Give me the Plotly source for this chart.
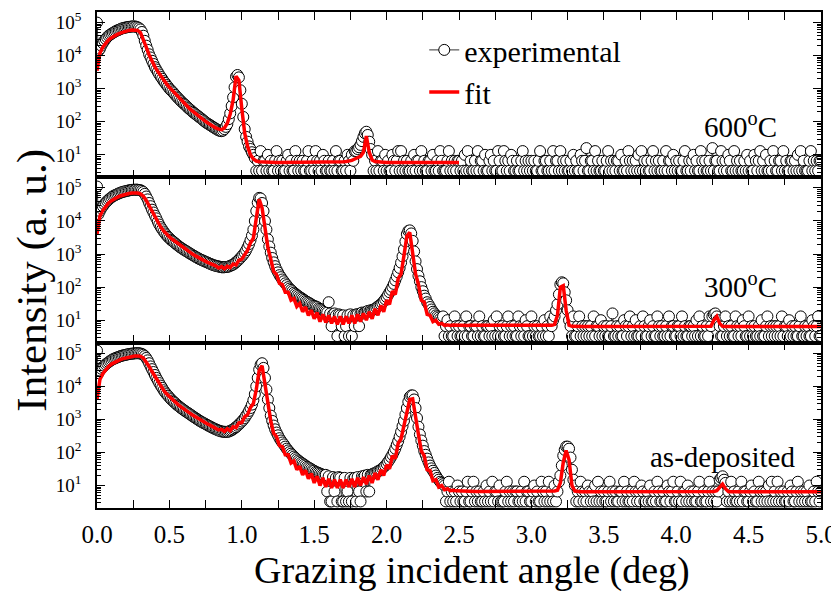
import plotly.graph_objects as go
from plotly.subplots import make_subplots

EXP_STEP = 0.01  # deg, measured scans
FIT_STEP = 0.02  # deg, simulated curves

# experimental: each row = 10 points, row k starts at 0.1*k deg
exp_600 = [
    1.0e5, 1.4e4, 1.6e4, 2.0e4, 2.4e4, 2.8e4, 3.2e4, 3.6e4, 4.0e4, 4.3e4,
    4.6e4, 4.9e4, 5.2e4, 5.5e4, 5.8e4, 6.0e4, 6.3e4, 6.6e4, 6.8e4, 7.0e4,
    7.1e4, 7.3e4, 7.4e4, 7.5e4, 7.6e4, 7.7e4, 7.6e4, 7.5e4, 7.2e4, 6.8e4,
    6.2e4, 5.2e4, 4.0e4, 2.8e4, 2.0e4, 1.5e4, 1.1e4, 8.8e3, 7.0e3, 5.6e3,
    4.5e3, 3.8e3, 3.2e3, 2.7e3, 2.3e3, 2.0e3, 1.7e3, 1.5e3, 1.3e3, 1.15e3,
    1.0e3, 900, 820, 730, 650, 580, 520, 470, 420, 380,
    350, 320, 290, 260, 240, 220, 200, 185, 170, 158,
    145, 135, 125, 115, 105, 97, 90, 85, 80, 75,
    70, 66, 62, 58, 55, 53, 52, 54, 60, 70,
    85, 120, 180, 300, 550, 1100, 2300, 2600, 2200, 900,
    350, 140, 60, 35, 25, 18, 15, 12, 10, 8.0,
    3.3, 6.6, 3.3, 13, 3.3, 6.6, 6.6, 3.3, 10, 3.3,
    6.6, 3.3, 3.3, 6.6, 13, 3.3, 6.6, 3.3, 6.6, 3.3,
    3.3, 6.6, 10, 3.3, 6.6, 3.3, 3.3, 13, 6.6, 3.3,
    6.6, 3.3, 6.6, 3.3, 3.3, 6.6, 13, 3.3, 3.3, 6.6,
    3.3, 13, 6.6, 3.3, 6.6, 3.3, 10, 6.6, 3.3, 3.3,
    6.6, 3.3, 3.3, 6.6, 3.3, 13, 3.3, 6.6, 6.6, 3.3,
    3.3, 6.6, 3.3, 10, 6.6, 3.3, 10, 6.6, 13, 13,
    15, 17, 20, 26, 35, 45, 50, 40, 25, 15,
    10, 3.3, 6.6, 3.3, 13, 3.3, 6.6, 6.6, 3.3, 10,
    3.3, 6.6, 3.3, 3.3, 10, 6.6, 3.3, 6.6, 13, 3.3,
    13, 3.3, 6.6, 3.3, 6.6, 3.3, 3.3, 6.6, 3.3, 10,
    3.3, 6.6, 6.6, 3.3, 13, 3.3, 6.6, 3.3, 3.3, 6.6,
    6.6, 3.3, 10, 3.3, 3.3, 6.6, 3.3, 13, 6.6, 3.3,
    3.3, 3.3, 6.6, 13, 3.3, 6.6, 3.3, 6.6, 3.3, 6.6,
    6.6, 3.3, 6.6, 3.3, 10, 3.3, 13, 3.3, 6.6, 3.3,
    3.3, 6.6, 3.3, 13, 3.3, 6.6, 6.6, 3.3, 10, 3.3,
    3.3, 6.6, 10, 3.3, 6.6, 3.3, 3.3, 13, 6.6, 3.3,
    3.3, 13, 6.6, 3.3, 6.6, 3.3, 10, 6.6, 3.3, 3.3,
    6.6, 3.3, 3.3, 6.6, 13, 3.3, 6.6, 3.3, 6.6, 3.3,
    6.6, 3.3, 6.6, 3.3, 3.3, 6.6, 13, 3.3, 3.3, 6.6,
    6.6, 3.3, 3.3, 6.6, 3.3, 13, 3.3, 6.6, 6.6, 3.3,
    13, 3.3, 6.6, 3.3, 6.6, 3.3, 3.3, 6.6, 3.3, 10,
    3.3, 6.6, 3.3, 3.3, 10, 6.6, 3.3, 6.6, 16, 3.3,
    3.3, 6.6, 6.6, 3.3, 13, 3.3, 6.6, 3.3, 3.3, 6.6,
    3.3, 3.3, 6.6, 13, 3.3, 6.6, 3.3, 6.6, 3.3, 6.6,
    6.6, 3.3, 10, 3.3, 3.3, 6.6, 3.3, 13, 6.6, 3.3,
    6.6, 3.3, 6.6, 3.3, 10, 3.3, 13, 3.3, 6.6, 3.3,
    6.6, 3.3, 3.3, 6.6, 13, 3.3, 6.6, 3.3, 6.6, 3.3,
    3.3, 6.6, 3.3, 13, 3.3, 6.6, 6.6, 3.3, 10, 3.3,
    6.6, 3.3, 6.6, 3.3, 3.3, 6.6, 13, 3.3, 3.3, 6.6,
    3.3, 6.6, 10, 3.3, 6.6, 3.3, 3.3, 13, 6.6, 3.3,
    6.6, 3.3, 3.3, 6.6, 3.3, 16, 3.3, 6.6, 6.6, 3.3,
    3.3, 13, 6.6, 3.3, 6.6, 3.3, 10, 6.6, 3.3, 3.3,
    13, 3.3, 6.6, 3.3, 6.6, 3.3, 3.3, 6.6, 3.3, 10,
    3.3, 6.6, 3.3, 3.3, 10, 6.6, 3.3, 6.6, 13, 3.3,
    6.6, 3.3, 10, 3.3, 3.3, 6.6, 3.3, 13, 6.6, 3.3,
    3.3, 6.6, 6.6, 3.3, 13, 3.3, 6.6, 3.3, 3.3, 6.6,
    6.6, 3.3, 6.6, 3.3, 10, 3.3, 13, 3.3, 6.6, 3.3,
    3.3, 3.3, 6.6, 13, 3.3, 6.6, 3.3, 6.6, 3.3, 6.6,
    6.6,
]

exp_300 = [
    1.1e5, 1.6e4, 2.0e4, 2.4e4, 2.8e4, 3.2e4, 3.6e4, 4.0e4, 4.4e4, 4.8e4,
    5.2e4, 5.6e4, 5.9e4, 6.2e4, 6.5e4, 6.8e4, 7.1e4, 7.4e4, 7.6e4, 7.8e4,
    8.0e4, 8.2e4, 8.4e4, 8.6e4, 8.7e4, 8.8e4, 8.8e4, 8.9e4, 8.8e4, 8.7e4,
    8.5e4, 8.1e4, 7.5e4, 6.6e4, 5.5e4, 4.5e4, 3.5e4, 2.8e4, 2.2e4, 1.8e4,
    1.45e4, 1.2e4, 9.5e3, 7.8e3, 6.5e3, 5.6e3, 4.8e3, 4.2e3, 3.7e3, 3.3e3,
    3.0e3, 2.7e3, 2.5e3, 2.3e3, 2.1e3, 1.95e3, 1.8e3, 1.65e3, 1.55e3, 1.45e3,
    1.35e3, 1.27e3, 1.2e3, 1.12e3, 1.05e3, 990, 930, 880, 830, 780,
    740, 700, 670, 640, 610, 585, 560, 535, 510, 490,
    470, 455, 440, 430, 420, 410, 400, 395, 400, 405,
    410, 420, 440, 460, 480, 520, 560, 620, 680, 760,
    850, 960, 1.1e3, 1.3e3, 1.6e3, 2.0e3, 2.6e3, 3.6e3, 5.5e3, 1.0e4,
    2.0e4, 3.6e4, 5.0e4, 4.8e4, 3.5e4, 2.0e4, 1.0e4, 5.5e3, 2.8e3, 1.7e3,
    1.1e3, 760, 560, 430, 340, 280, 230, 200, 170, 150,
    130, 115, 100, 90, 82, 75, 68, 63, 58, 54,
    50, 47, 44, 41, 38, 36, 34, 32, 30, 28,
    27, 26, 25, 23, 22, 21, 20, 19, 18, 17,
    35, 16, 6.6, 15, 16, 14, 3.3, 15, 14, 6.6,
    14, 3.3, 6.6, 14, 3.3, 15, 3.3, 14, 6.6, 15,
    15, 6.6, 16, 17, 16, 17, 18, 19, 18, 20,
    20, 21, 22, 24, 26, 28, 30, 33, 38, 43,
    50, 58, 70, 82, 100, 125, 160, 210, 280, 380,
    550, 850, 1.4e3, 2.4e3, 4.0e3, 5.0e3, 5.2e3, 4.2e3, 2.5e3, 1.2e3,
    600, 350, 220, 150, 100, 75, 55, 45, 35, 30,
    25, 21, 18, 16, 14, 13, 12, 11, 10, 13,
    3.3, 6.6, 10, 3.3, 6.6, 3.3, 3.3, 13, 6.6, 3.3,
    6.6, 3.3, 3.3, 6.6, 3.3, 13, 3.3, 6.6, 6.6, 3.3,
    3.3, 6.6, 6.6, 3.3, 13, 3.3, 6.6, 3.3, 3.3, 6.6,
    6.6, 3.3, 6.6, 3.3, 10, 3.3, 13, 3.3, 6.6, 3.3,
    6.6, 3.3, 3.3, 6.6, 13, 3.3, 6.6, 3.3, 6.6, 3.3,
    3.3, 13, 6.6, 3.3, 6.6, 3.3, 10, 6.6, 3.3, 3.3,
    13, 3.3, 6.6, 3.3, 6.6, 3.3, 3.3, 6.6, 3.3, 10,
    3.3, 6.6, 3.3, 13, 6.6, 10, 13, 20, 30, 60,
    120, 140, 130, 70, 40, 20, 10, 6.6, 3.3, 13,
    3.3, 3.3, 6.6, 13, 3.3, 6.6, 3.3, 6.6, 3.3, 6.6,
    3.3, 6.6, 3.3, 13, 3.3, 6.6, 6.6, 3.3, 10, 3.3,
    6.6, 3.3, 6.6, 3.3, 3.3, 6.6, 16, 3.3, 3.3, 6.6,
    3.3, 6.6, 3.3, 3.3, 10, 6.6, 3.3, 6.6, 13, 3.3,
    6.6, 3.3, 10, 3.3, 3.3, 6.6, 3.3, 13, 6.6, 3.3,
    3.3, 6.6, 10, 3.3, 6.6, 3.3, 3.3, 13, 6.6, 3.3,
    6.6, 3.3, 3.3, 6.6, 3.3, 13, 3.3, 6.6, 6.6, 3.3,
    3.3, 6.6, 6.6, 3.3, 13, 3.3, 6.6, 3.3, 3.3, 6.6,
    6.6, 3.3, 6.6, 3.3, 10, 3.3, 13, 3.3, 6.6, 3.3,
    3.3, 6.6, 3.3, 13, 6.6, 13, 15, 16, 13, 10,
    6.6, 3.3, 3.3, 6.6, 13, 3.3, 6.6, 3.3, 6.6, 3.3,
    3.3, 13, 6.6, 3.3, 6.6, 3.3, 10, 6.6, 3.3, 3.3,
    13, 3.3, 6.6, 3.3, 6.6, 3.3, 3.3, 6.6, 3.3, 10,
    3.3, 3.3, 6.6, 13, 3.3, 6.6, 3.3, 6.6, 3.3, 6.6,
    3.3, 6.6, 3.3, 13, 3.3, 6.6, 6.6, 3.3, 10, 3.3,
    6.6, 3.3, 6.6, 3.3, 3.3, 6.6, 13, 3.3, 3.3, 6.6,
    3.3, 6.6, 3.3, 3.3, 10, 6.6, 3.3, 6.6, 13, 3.3,
    3.3,
]

exp_asdep = [
    1.2e5, 2.5e4, 3.0e4, 3.4e4, 3.8e4, 4.2e4, 4.6e4, 5.0e4, 5.4e4, 5.8e4,
    6.2e4, 6.6e4, 6.9e4, 7.2e4, 7.5e4, 7.8e4, 8.1e4, 8.4e4, 8.6e4, 8.8e4,
    9.0e4, 9.2e4, 9.4e4, 9.6e4, 9.7e4, 9.8e4, 9.9e4, 1.0e5, 1.0e5, 1.0e5,
    9.8e4, 9.5e4, 9.0e4, 8.2e4, 7.2e4, 6.1e4, 5.0e4, 4.0e4, 3.3e4, 2.7e4,
    2.2e4, 1.8e4, 1.5e4, 1.25e4, 1.05e4, 9.0e3, 7.6e3, 6.6e3, 5.8e3, 5.2e3,
    4.6e3, 4.1e3, 3.7e3, 3.4e3, 3.1e3, 2.8e3, 2.6e3, 2.4e3, 2.2e3, 2.05e3,
    1.9e3, 1.77e3, 1.65e3, 1.55e3, 1.45e3, 1.35e3, 1.25e3, 1.17e3, 1.1e3, 1.03e3,
    960, 900, 850, 800, 760, 720, 680, 645, 610, 580,
    550, 525, 500, 480, 460, 445, 430, 425, 420, 420,
    420, 430, 450, 470, 500, 540, 580, 640, 700, 780,
    860, 970, 1.1e3, 1.3e3, 1.5e3, 1.8e3, 2.2e3, 2.8e3, 3.8e3, 5.8e3,
    1.0e4, 1.8e4, 3.2e4, 4.5e4, 5.0e4, 3.6e4, 1.8e4, 8.0e3, 4.0e3, 2.2e3,
    1.3e3, 900, 650, 500, 400, 330, 270, 230, 200, 175,
    150, 130, 115, 102, 92, 83, 75, 68, 62, 57,
    53, 49, 46, 43, 40, 37, 35, 33, 31, 29,
    28, 26, 25, 24, 23, 22, 21, 20, 21, 6.6,
    19, 3.3, 3.3, 18, 6.6, 17, 3.3, 18, 17, 3.3,
    3.3, 17, 3.3, 6.6, 3.3, 17, 3.3, 16, 17, 3.3,
    18, 6.6, 3.3, 19, 18, 20, 6.6, 21, 6.6, 21,
    22, 23, 24, 25, 27, 28, 30, 33, 36, 40,
    45, 52, 60, 72, 85, 105, 130, 170, 220, 300,
    420, 620, 900, 1.4e3, 2.2e3, 3.4e3, 4.8e3, 5.3e3, 5.3e3, 4.0e3,
    2.2e3, 1.1e3, 600, 350, 230, 160, 110, 85, 65, 50,
    40, 33, 28, 24, 20, 17, 15, 13, 12, 11,
    10, 3.3, 6.6, 13, 3.3, 6.6, 3.3, 6.6, 3.3, 10,
    6.6, 3.3, 6.6, 3.3, 3.3, 6.6, 13, 3.3, 3.3, 6.6,
    13, 3.3, 6.6, 3.3, 6.6, 3.3, 3.3, 6.6, 3.3, 10,
    3.3, 6.6, 3.3, 13, 3.3, 6.6, 6.6, 3.3, 10, 3.3,
    3.3, 3.3, 6.6, 13, 3.3, 6.6, 3.3, 6.6, 3.3, 6.6,
    6.6, 3.3, 3.3, 6.6, 3.3, 13, 3.3, 6.6, 6.6, 3.3,
    3.3, 6.6, 10, 3.3, 6.6, 3.3, 3.3, 13, 6.6, 3.3,
    6.6, 3.3, 13, 3.3, 6.6, 3.3, 10, 3.3, 6.6, 13,
    20, 40, 80, 120, 150, 150, 130, 70, 30, 15,
    10, 3.3, 6.6, 3.3, 13, 6.6, 3.3, 6.6, 3.3, 10,
    6.6, 3.3, 6.6, 3.3, 10, 3.3, 13, 3.3, 6.6, 3.3,
    6.6, 3.3, 3.3, 6.6, 13, 3.3, 6.6, 3.3, 6.6, 3.3,
    3.3, 6.6, 6.6, 3.3, 13, 3.3, 6.6, 3.3, 3.3, 6.6,
    3.3, 13, 6.6, 3.3, 6.6, 3.3, 10, 6.6, 3.3, 3.3,
    6.6, 3.3, 10, 3.3, 3.3, 6.6, 3.3, 13, 6.6, 3.3,
    3.3, 6.6, 3.3, 3.3, 10, 6.6, 3.3, 6.6, 13, 3.3,
    3.3, 6.6, 3.3, 13, 3.3, 6.6, 6.6, 3.3, 10, 3.3,
    6.6, 3.3, 6.6, 3.3, 3.3, 6.6, 13, 3.3, 3.3, 6.6,
    3.3, 3.3, 6.6, 13, 3.3, 6.6, 3.3, 6.6, 3.3, 6.6,
    15, 17, 19, 15, 12, 3.3, 6.6, 3.3, 13, 3.3,
    6.6, 3.3, 3.3, 6.6, 3.3, 13, 3.3, 6.6, 6.6, 3.3,
    3.3, 6.6, 10, 3.3, 6.6, 3.3, 3.3, 13, 6.6, 3.3,
    6.6, 3.3, 6.6, 3.3, 10, 3.3, 13, 3.3, 6.6, 3.3,
    13, 3.3, 6.6, 3.3, 6.6, 3.3, 3.3, 6.6, 3.3, 10,
    6.6, 3.3, 3.3, 6.6, 13, 3.3, 6.6, 3.3, 6.6, 3.3,
    6.6, 3.3, 10, 3.3, 3.3, 6.6, 3.3, 13, 6.6, 3.3,
    6.6,
]

# fits: each row = 10 points, row k starts at 0.2*k deg
fit_600 = [
    3.5e3, 1.2e4, 1.8e4, 2.4e4, 3.0e4, 3.5e4, 4.0e4, 4.4e4, 4.8e4, 5.2e4,
    5.5e4, 5.8e4, 6.0e4, 6.0e4, 5.8e4, 5.0e4, 3.2e4, 1.8e4, 1.05e4, 6.8e3,
    4.6e3, 3.3e3, 2.4e3, 1.8e3, 1.4e3, 1.1e3, 880, 700, 560, 450,
    370, 300, 250, 210, 175, 150, 128, 110, 95, 82,
    72, 65, 60, 58, 65, 90, 170, 450, 2400, 1800,
    250, 45, 18, 10, 7.5, 6.5, 6.2, 6.1, 6.0, 6.0,
    6.0, 6.0, 5.9, 5.9, 5.9, 5.9, 5.9, 5.9, 5.9, 5.9,
    5.9, 5.9, 5.9, 5.9, 5.9, 5.9, 5.9, 5.9, 5.9, 5.9,
    5.9, 5.9, 6.0, 6.0, 6.1, 6.2, 6.3, 6.5, 6.8, 7.5,
    8.0, 9.0, 12, 37, 12, 7.0, 6.3, 6.1, 6.0, 6.0,
    5.9, 5.9, 5.9, 5.9, 5.9, 5.9, 5.9, 5.9, 5.9, 5.9,
    5.9, 5.9, 5.9, 5.9, 5.9, 5.9, 5.9, 5.9, 5.9, 5.9,
    5.9, 5.9, 5.9, 5.9, 5.9, 5.9,
]

fit_300 = [
    4.0e3, 1.4e4, 2.1e4, 2.8e4, 3.5e4, 4.1e4, 4.7e4, 5.2e4, 5.7e4, 6.1e4,
    6.5e4, 6.8e4, 7.0e4, 7.1e4, 7.0e4, 6.6e4, 5.6e4, 4.2e4, 2.9e4, 1.9e4,
    1.3e4, 9.0e3, 6.5e3, 5.0e3, 4.0e3, 3.3e3, 2.8e3, 2.4e3, 2.05e3, 1.75e3,
    1.5e3, 1.3e3, 1.15e3, 1.0e3, 880, 780, 700, 630, 570, 520,
    480, 440, 380, 420, 360, 430, 390, 500, 470, 650,
    700, 1.0e3, 1.3e3, 2.2e3, 3.0e3, 1.2e4, 4.5e4, 2.5e4, 6.0e3, 1.6e3,
    700, 300, 240, 130, 120, 70, 70, 40, 45, 26,
    32, 18, 25, 14, 20, 11, 17, 9.0, 15, 8.5,
    14, 8.0, 13, 7.5, 13, 7.5, 13, 8.0, 14, 8.0,
    15, 9.0, 16, 10, 18, 11, 22, 14, 28, 18,
    40, 30, 75, 60, 180, 250, 900, 3.5e3, 4.5e3, 1.2e3,
    250, 120, 40, 35, 15, 14, 9.0, 10, 7.5, 8.0,
    7.0, 7.2, 6.9, 7.1, 7.0, 6.9, 7.0, 7.1, 6.9, 7.0,
    7.0, 6.9, 7.0, 7.0, 6.9, 7.0, 6.9, 7.0, 6.9, 6.9,
    6.9, 6.9, 6.8, 6.9, 6.8, 6.8, 6.8, 6.8, 6.8, 6.8,
    6.8, 6.8, 6.8, 6.8, 6.8, 6.9, 6.9, 7.0, 7.5, 14,
    100, 110, 20, 7.0, 6.5, 6.4, 6.4, 6.4, 6.4, 6.4,
    6.4, 6.4, 6.4, 6.4, 6.4, 6.4, 6.4, 6.4, 6.4, 6.4,
    6.4, 6.4, 6.4, 6.4, 6.4, 6.4, 6.4, 6.4, 6.4, 6.4,
    6.4, 6.4, 6.4, 6.4, 6.4, 6.4, 6.4, 6.4, 6.4, 6.4,
    6.4, 6.4, 6.4, 6.4, 6.4, 6.4, 6.4, 6.4, 6.4, 6.4,
    6.4, 6.4, 6.6, 10, 13, 8.0, 6.5, 6.4, 6.4, 6.4,
    6.4, 6.4, 6.4, 6.4, 6.4, 6.4, 6.4, 6.4, 6.4, 6.4,
    6.4, 6.4, 6.4, 6.4, 6.4, 6.4, 6.4, 6.4, 6.4, 6.4,
    6.4, 6.4, 6.4, 6.4, 6.4, 6.4, 6.4, 6.4, 6.4, 6.4,
    6.4,
]

fit_asdep = [
    4.0e3, 1.6e4, 2.4e4, 3.2e4, 4.0e4, 4.7e4, 5.3e4, 5.9e4, 6.4e4, 6.9e4,
    7.3e4, 7.7e4, 8.0e4, 8.2e4, 8.3e4, 8.1e4, 7.2e4, 5.6e4, 4.0e4, 2.8e4,
    2.0e4, 1.4e4, 1.0e4, 7.6e3, 5.9e3, 4.8e3, 3.9e3, 3.3e3, 2.8e3, 2.4e3,
    2.05e3, 1.8e3, 1.55e3, 1.35e3, 1.2e3, 1.05e3, 930, 830, 740, 670,
    600, 540, 480, 500, 430, 520, 450, 600, 560, 780,
    800, 1.2e3, 1.4e3, 2.3e3, 3.0e3, 8.0e3, 3.0e4, 4.2e4, 1.2e4, 2.5e3,
    900, 380, 300, 160, 150, 85, 85, 48, 55, 30,
    38, 21, 29, 16, 23, 12, 19, 10, 17, 9.0,
    16, 8.5, 15, 8.5, 15, 8.5, 15, 9.0, 16, 9.0,
    17, 10, 18, 11, 20, 12, 24, 15, 30, 20,
    42, 32, 80, 65, 190, 260, 700, 1.8e3, 4.0e3, 4.2e3,
    1.0e3, 350, 110, 80, 30, 28, 14, 15, 9.0, 10,
    7.5, 8.0, 7.0, 7.2, 6.9, 6.8, 6.7, 6.7, 6.6, 6.6,
    6.6, 6.6, 6.6, 6.6, 6.6, 6.6, 6.6, 6.6, 6.6, 6.6,
    6.6, 6.6, 6.6, 6.6, 6.6, 6.6, 6.6, 6.6, 6.6, 6.6,
    6.6, 6.6, 6.6, 6.6, 6.6, 6.6, 6.6, 6.7, 6.8, 7.2,
    12, 50, 115, 60, 10, 6.8, 6.5, 6.5, 6.5, 6.5,
    6.5, 6.5, 6.5, 6.5, 6.5, 6.5, 6.5, 6.5, 6.5, 6.5,
    6.5, 6.5, 6.5, 6.5, 6.5, 6.5, 6.5, 6.5, 6.5, 6.5,
    6.5, 6.5, 6.5, 6.5, 6.5, 6.5, 6.5, 6.5, 6.5, 6.5,
    6.5, 6.5, 6.5, 6.5, 6.5, 6.5, 6.5, 6.5, 6.5, 6.5,
    6.5, 6.5, 6.5, 6.6, 7.0, 9.0, 11, 8.0, 6.6, 6.5,
    6.5, 6.5, 6.5, 6.5, 6.5, 6.5, 6.5, 6.5, 6.5, 6.5,
    6.5, 6.5, 6.5, 6.5, 6.5, 6.5, 6.5, 6.5, 6.5, 6.5,
    6.5, 6.5, 6.5, 6.5, 6.5, 6.5, 6.5, 6.5, 6.5, 6.5,
    6.5,
]

PANELS = [
    ("600<sup>o</sup>C", exp_600, fit_600),
    ("300<sup>o</sup>C", exp_300, fit_300),
    ("as-deposited", exp_asdep, fit_asdep),
]
LABEL_POS = [(0.942, 0.772), (0.942, 0.450), (0.967, 0.103)]

Y_TICKS = [1e1, 1e2, 1e3, 1e4, 1e5]
Y_TICKTEXT = ["10<sup>1</sup>", "10<sup>2</sup>", "10<sup>3</sup>",
              "10<sup>4</sup>", "10<sup>5</sup>"]
Y_MINOR = [m * 10 ** k for k in range(0, 6) for m in range(2, 10)]

FONT = "Liberation Serif, Times New Roman, serif"


def angles(values, step):
    return [round(i * step, 2) for i in range(len(values))]


fig = make_subplots(rows=3, cols=1, shared_xaxes=True, vertical_spacing=0)

for row, (label, exp, fit) in enumerate(PANELS, start=1):
    fig.add_trace(go.Scatter(
        x=angles(exp, EXP_STEP), y=exp,
        mode="lines+markers",
        name="experimental",
        line=dict(color="#333333", width=1),
        marker=dict(symbol="circle", size=11, color="white",
                    line=dict(color="black", width=1)),
        showlegend=(row == 1),
    ), row=row, col=1)
    fig.add_trace(go.Scatter(
        x=angles(fit, FIT_STEP), y=fit,
        mode="lines",
        name="fit",
        line=dict(color="#FF0000", width=3.5),
        showlegend=(row == 1),
    ), row=row, col=1)
    lx, ly = LABEL_POS[row - 1]
    fig.add_annotation(
        text=label, x=lx, y=ly, xref="paper", yref="paper",
        xanchor="right", yanchor="middle", showarrow=False,
        font=dict(family=FONT, size=29, color="black"),
    )

fig.update_xaxes(
    range=[0, 5], dtick=0.5, tickformat=".1f",
    ticks="inside", ticklen=8, tickwidth=1.2, tickcolor="black",
    minor=dict(dtick=0.25, ticks="inside", ticklen=8, tickcolor="black"),
    showline=True, linecolor="black", linewidth=1.5, mirror="allticks",
    showgrid=False, zeroline=False, automargin=False,
    tickfont=dict(family=FONT, size=25, color="black"),
    ticklabelstandoff=3, ticklabeloverflow="allow",
)
fig.update_yaxes(
    type="log", range=[0.32, 5.32],
    tickvals=Y_TICKS, ticktext=Y_TICKTEXT,
    ticks="inside", ticklen=8, tickwidth=1.2, tickcolor="black",
    minor=dict(tickvals=Y_MINOR, ticks="inside", ticklen=4, tickcolor="black"),
    showline=True, linecolor="black", linewidth=1.5, mirror="allticks",
    showgrid=False, zeroline=False, automargin=False,
    tickfont=dict(family=FONT, size=19, color="black"),
    ticklabelstandoff=10, ticklabeloverflow="allow",
)

fig.add_annotation(
    text="Intensity (a. u.)", textangle=-90,
    x=-0.09, y=0.460, xref="paper", yref="paper",
    xanchor="center", yanchor="middle", showarrow=False,
    font=dict(family=FONT, size=43, color="black"),
)
fig.add_annotation(
    text="Grazing incident angle (deg)",
    x=0.518, y=-0.127, xref="paper", yref="paper",
    xanchor="center", yanchor="middle", showarrow=False,
    font=dict(family=FONT, size=38, color="black"),
)

# the page body adds an 8 px offset, so the figure is 8 px smaller
fig.update_layout(
    width=831, height=584,
    margin=dict(l=89, r=18, t=4, b=84),
    paper_bgcolor="white", plot_bgcolor="white",
    font=dict(family=FONT, color="black"),
    legend=dict(
        x=0.452, y=0.976, xanchor="left", yanchor="top",
        bgcolor="rgba(0,0,0,0)", borderwidth=0,
        font=dict(family=FONT, size=30, color="black"),
        tracegroupgap=0,
    ),
)

fig.write_html("out.html")
